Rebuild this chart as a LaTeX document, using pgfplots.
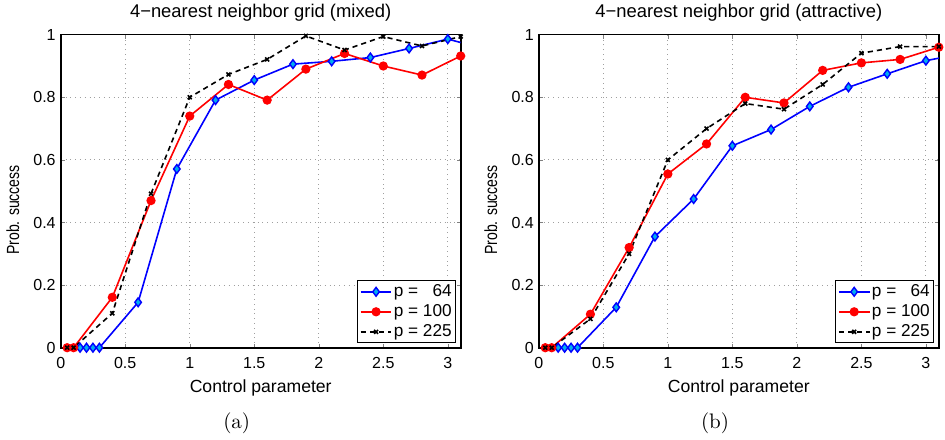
\documentclass[border=0pt]{standalone}
\usepackage{fontspec}
\usepackage{graphicx}
\usepackage{pgfplots}
\pgfplotsset{compat=1.18}
\newfontfamily\lsans{Liberation Sans}

% 1 px of the reference = 0.5pt
\pgfplotsset{
  gridax/.style={
    scale only axis,
    width=200pt, height=156.5pt,
    anchor=south west,
    xmin=0, xmax=3.1, ymin=0, ymax=1,
    xtick={0,0.5,1,1.5,2,2.5,3},
    ytick={0,0.2,0.4,0.6,0.8,1},
    tick align=inside,
    tick pos=both,
    major tick length=2pt,
    axis line style={line width=0.8pt},
    grid=major,
    major grid style={dotted, gray!75, line width=0.45pt},
    /pgf/number format/assume math mode=true,
    tick label style={font=\lsans\fontsize{8}{9}\selectfont},
    xticklabel style={yshift=-1.2pt},
    yticklabel style={xshift=1pt},
    label style={font=\lsans\fontsize{8.8}{10}\selectfont},
    title style={font=\lsans\fontsize{9.2}{10}\selectfont,
      at={(axis description cs:0.5,1)}, anchor=base, yshift=2.6pt},
    xlabel style={at={(axis description cs:0.5,0)}, anchor=base, yshift=-22.3pt},
    ylabel style={at={(axis description cs:-0.1042,0.44)}, anchor=base},
    xlabel={Control parameter},
    ylabel={\scalebox{0.8}[1]{Prob. success}},
    legend style={font=\lsans\fontsize{8.6}{10}\selectfont,
      at={(axis description cs:0.989,0.014)}, anchor=south east,
      draw=black, line width=0.6pt, fill=white, row sep=0.7pt,
      nodes={inner xsep=0.8pt, inner ysep=0.9pt},
      inner xsep=1.2pt, inner ysep=0.8pt},
    legend cell align=left,
    legend image code/.code={
      \draw[mark repeat=2, mark phase=2, ##1]
        plot coordinates {(0cm,0cm) (0.27cm,0cm) (0.54cm,0cm)};},
  },
  p64/.style={blue, line width=0.8pt, mark=diamond*, mark size=2.2pt,
    mark options={solid, draw=blue, fill=cyan, line width=0.7pt}},
  p100/.style={red, line width=0.8pt, mark=*, mark size=1.9pt,
    mark options={solid, fill=red}},
  p225/.style={black, line width=0.8pt, dash pattern=on 2.6pt off 2pt,
    mark=x, mark size=1.4pt, mark options={solid, line width=0.8pt}},
}

\begin{document}
\begin{tikzpicture}
\useasboundingbox (0,0) rectangle (472.5pt,219.5pt);

% (a) mixed
\begin{axis}[gridax, at={(30.35pt,45.65pt)},
  title={4−nearest neighbor grid (mixed)}]
\addplot[p64, mark indices={1,...,13}, forget plot] coordinates {
  (0.15,0) (0.2,0) (0.25,0) (0.3,0) (0.6,0.145) (0.9,0.571) (1.2,0.791)
  (1.5,0.855) (1.8,0.906) (2.1,0.915) (2.4,0.927) (2.7,0.956) (3.0,0.986)
  (3.3,0.953)
};
\addlegendimage{p64}
\addlegendentry{p = \phantom{1}64}
\addplot[p100] coordinates {
  (0.05,0) (0.1,0) (0.4,0.161) (0.7,0.47) (1.0,0.74) (1.3,0.841) (1.6,0.791)
  (1.9,0.89) (2.2,0.94) (2.5,0.90) (2.8,0.871) (3.1,0.932)
};
\addlegendentry{p = 100}
\addplot[p225] coordinates {
  (0.05,0) (0.1,0) (0.4,0.11) (0.7,0.492) (1.0,0.80) (1.3,0.873) (1.6,0.921)
  (1.9,0.996) (2.2,0.951) (2.5,0.994) (2.8,0.964) (3.1,0.994)
};
\addlegendentry{p = 225}
\end{axis}

% (b) attractive
\begin{axis}[gridax, at={(269.4pt,45.65pt)},
  title={4−nearest neighbor grid (attractive)}]
\addplot[p64, mark indices={1,...,13}, forget plot] coordinates {
  (0.15,0) (0.2,0) (0.25,0) (0.3,0) (0.6,0.129) (0.9,0.355) (1.2,0.475)
  (1.5,0.645) (1.8,0.697) (2.1,0.771) (2.4,0.832) (2.7,0.875) (3.0,0.917)
  (3.3,0.941)
};
\addlegendimage{p64}
\addlegendentry{p = \phantom{1}64}
\addplot[p100] coordinates {
  (0.05,0) (0.1,0) (0.4,0.107) (0.7,0.32) (1.0,0.555) (1.3,0.651) (1.6,0.80)
  (1.9,0.782) (2.2,0.886) (2.5,0.91) (2.8,0.921) (3.1,0.96)
};
\addlegendentry{p = 100}
\addplot[p225] coordinates {
  (0.05,0) (0.1,0) (0.4,0.092) (0.7,0.30) (1.0,0.60) (1.3,0.70) (1.6,0.78)
  (1.9,0.762) (2.2,0.841) (2.5,0.941) (2.8,0.962) (3.1,0.962)
};
\addlegendentry{p = 225}
\end{axis}

\node[font=\fontsize{10.5}{12}\selectfont, anchor=base] at (118.35pt,5.5pt) {(a)};
\node[font=\fontsize{10.5}{12}\selectfont, anchor=base] at (357.5pt,5.5pt) {(b)};
\end{tikzpicture}
\end{document}
